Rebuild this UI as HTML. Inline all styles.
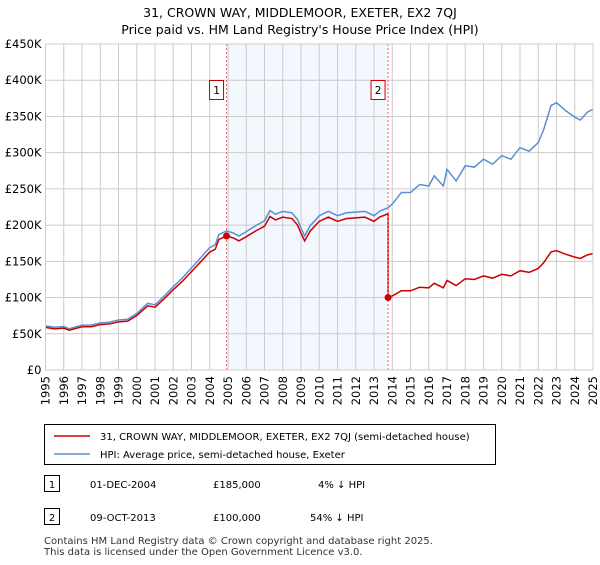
<!DOCTYPE html>
<html><head><meta charset="utf-8"><style>
body{margin:0;background:#fff;font-family:"Liberation Sans","DejaVu Sans",sans-serif;}
svg text{font-family:"DejaVu Sans","Liberation Sans",sans-serif;}
</style></head><body>
<svg width="600" height="560" xmlns="http://www.w3.org/2000/svg">
<text x="300" y="17" text-anchor="middle" font-size="12.5">31, CROWN WAY, MIDDLEMOOR, EXETER, EX2 7QJ</text>
<text x="300" y="34" text-anchor="middle" font-size="12.5">Price paid vs. HM Land Registry's House Price Index (HPI)</text>
<g id="plot"></g>
<g>
<rect x="44.5" y="424.5" width="451" height="40" fill="#fff" stroke="#000"/>
<line x1="54" y1="436" x2="90" y2="436" stroke="#cc0000" stroke-width="1.5"/>
<text x="100" y="440" font-size="10">31, CROWN WAY, MIDDLEMOOR, EXETER, EX2 7QJ (semi-detached house)</text>
<line x1="54" y1="454" x2="90" y2="454" stroke="#5b8fd0" stroke-width="1.5"/>
<text x="100" y="458" font-size="10">HPI: Average price, semi-detached house, Exeter</text>
</g>
<g>
<rect x="44.5" y="475.5" width="15" height="16" fill="#fff" stroke="#000"/>
<text x="52" y="488" font-size="10" text-anchor="middle">1</text>
<text x="90" y="488" font-size="10">01-DEC-2004</text>
<text x="213" y="488" font-size="10">£185,000</text>
<text x="318" y="488" font-size="10">4% ↓ HPI</text>
<rect x="44.5" y="508.5" width="15" height="16" fill="#fff" stroke="#000"/>
<text x="52" y="521" font-size="10" text-anchor="middle">2</text>
<text x="90" y="521" font-size="10">09-OCT-2013</text>
<text x="213" y="521" font-size="10">£100,000</text>
<text x="310" y="521" font-size="10">54% ↓ HPI</text>
</g>
<text x="44" y="544" font-size="10" fill="#333">Contains HM Land Registry data © Crown copyright and database right 2025.</text>
<text x="44" y="555" font-size="10" fill="#333">This data is licensed under the Open Government Licence v3.0.</text>
</svg>
<script>
const hpiYears=[1995,1995.5,1996,1996.3,1997,1997.5,1998,1998.5,1999,1999.5,2000,2000.6,2001,2001.5,2002,2002.5,2003,2003.5,2004,2004.3,2004.5,2004.92,2005.3,2005.6,2006,2006.5,2007,2007.3,2007.6,2008,2008.5,2008.8,2009,2009.2,2009.5,2010,2010.5,2011,2011.5,2012,2012.5,2013,2013.3,2013.77,2014,2014.5,2015,2015.5,2016,2016.3,2016.8,2017,2017.5,2018,2018.5,2019,2019.5,2020,2020.5,2021,2021.5,2022,2022.3,2022.7,2023,2023.5,2024,2024.3,2024.7,2025];
const hpiValues=[61,59,60,57,62,62,65,66,69,70,78,92,90,102,115,127,141,155,169,173,187,192,189,185,191,199,206,220,215,219,217,208,196,185,199,213,219,213,217,218,219,213,219,224,229,245,245,256,254,268,254,277,261,282,280,291,284,296,291,307,302,314,332,365,369,358,349,345,356,360];
const saleYears=[2004.92,2013.77];
const salePrices=[185,100];
const yTicks=[0,50,100,150,200,250,300,350,400,450];
const yTickLabels=["£0","£50K","£100K","£150K","£200K","£250K","£300K","£350K","£400K","£450K"];
const xTicks=[1995,1996,1997,1998,1999,2000,2001,2002,2003,2004,2005,2006,2007,2008,2009,2010,2011,2012,2013,2014,2015,2016,2017,2018,2019,2020,2021,2022,2023,2024,2025];
const L=45.5,R=593,T=44,B=370;
const xs=y=>L+(y-1995)/30*(R-L);
const ys=v=>B-v/450*(B-T);
const NS="http://www.w3.org/2000/svg";
const g=document.getElementById('plot');
function mk(t,a,p){const e=document.createElementNS(NS,t);for(const k in a)e.setAttribute(k,a[k]);(p||g).appendChild(e);return e;}
const shade=mk('rect',{x:xs(saleYears[0]),y:T,width:xs(saleYears[1])-xs(saleYears[0]),height:B-T,fill:'#eef3fd',opacity:0.7});


yTicks.forEach((v,i)=>{
 const l=mk('line',{x1:L,x2:R,y1:ys(v),y2:ys(v),stroke:'#cccccc'});
 
 
 const t=mk('text',{x:L-4,y:ys(v)+4,'text-anchor':'end','font-size':11.5});
 
 
 t.textContent=yTickLabels[i];
});
xTicks.forEach(y=>{
 const l=mk('line',{x1:xs(y),x2:xs(y),y1:T,y2:B,stroke:'#cccccc'});
 
 
 const t=mk('text',{x:0,y:0,'text-anchor':'end','font-size':11.5,transform:`translate(${xs(y)+4},${B+6}) rotate(-90)`});
 
 
 t.textContent=y;
});
// price line: indexed to HPI from each sale
function hpiAt(y){for(let i=0;i<hpiYears.length-1;i++){if(y<=hpiYears[i+1]){const f=(y-hpiYears[i])/(hpiYears[i+1]-hpiYears[i]);return hpiValues[i]+f*(hpiValues[i+1]-hpiValues[i]);}}return hpiValues[hpiValues.length-1];}
let pts=[];
hpiYears.forEach((y,i)=>{
 if(y<saleYears[1]) pts.push([y,hpiValues[i]*salePrices[0]/hpiAt(saleYears[0])]);
});
pts.push([saleYears[1],hpiAt(saleYears[1])*salePrices[0]/hpiAt(saleYears[0])]);
pts.push([saleYears[1],salePrices[1]]);
hpiYears.forEach((y,i)=>{if(y>saleYears[1]) pts.push([y,hpiValues[i]*salePrices[1]/hpiAt(saleYears[1])]);});
const hp=mk('polyline',{points:hpiYears.map((y,i)=>xs(y)+','+ys(hpiValues[i])).join(' '),fill:'none',stroke:'#5b8fd0','stroke-width':1.5});


const pp=mk('polyline',{points:pts.map(p=>xs(p[0])+','+ys(p[1])).join(' '),fill:'none',stroke:'#cc0000','stroke-width':1.5});


saleYears.forEach((y,i)=>{
 const v=mk('line',{x1:xs(y),x2:xs(y),y1:T,y2:B,stroke:'#ff6666','stroke-dasharray':'2,2'});
 
 
 const c=mk('circle',{cx:xs(y),cy:ys(salePrices[i]),r:3.5,fill:'#cc0000'});
 
 
 const b=mk('rect',{x:xs(y)-17,y:80.5,width:14,height:19,fill:'#fff',stroke:'#cc0000'});
 
 
 const t=mk('text',{x:xs(y)-10,y:94,'text-anchor':'middle','font-size':10.5});
 
 
 t.textContent=i+1;
});
const fr=mk('rect',{x:L,y:T,width:R-L,height:B-T,fill:'none',stroke:'#cccccc'});


</script>
</body></html>
